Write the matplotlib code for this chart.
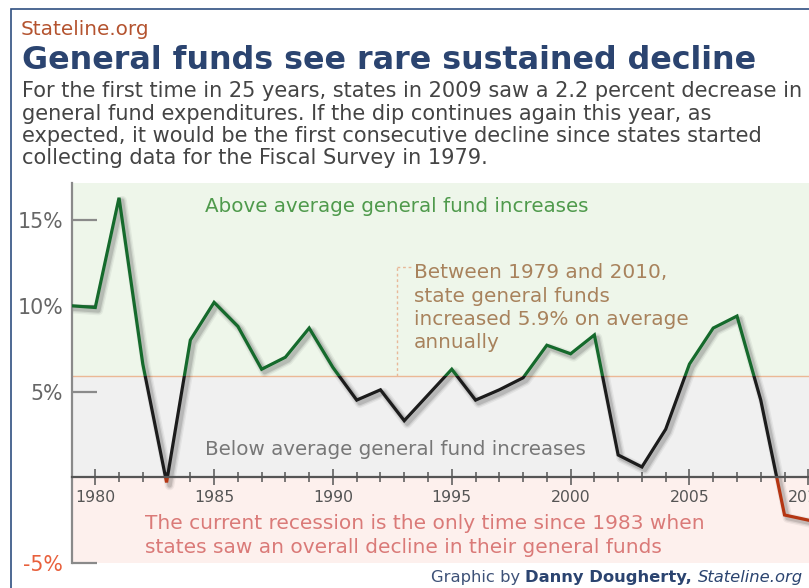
import matplotlib
matplotlib.use("Agg")
import matplotlib.pyplot as plt
from matplotlib import transforms
from matplotlib.patches import Rectangle

plt.rcParams["font.family"] = ["DejaVu Sans"]

# data: annual % change in state general fund spending
years = [1979, 1980, 1981, 1982, 1983, 1984, 1985, 1986, 1987, 1988, 1989,
         1990, 1991, 1992, 1993, 1994, 1995, 1996, 1997, 1998, 1999, 2000,
         2001, 2002, 2003, 2004, 2005, 2006, 2007, 2008, 2009, 2010]
change = [10.0, 9.9, 16.3, 6.6, -0.3, 8.0, 10.2, 8.8, 6.3, 7.0, 8.7,
          6.4, 4.5, 5.1, 3.3, 4.8, 6.3, 4.5, 5.1, 5.8, 7.7, 7.2,
          8.3, 1.3, 0.6, 2.8, 6.6, 8.7, 9.4, 4.5, -2.2, -2.5]
avg = 5.9
ytick_vals = [-5, 5, 10, 15]
ytick_lbls = ["-5%", "5%", "10%", "15%"]
xtick_major = [1980, 1985, 1990, 1995, 2000, 2005, 2010]

intro = ["For the first time in 25 years, states in 2009 saw a 2.2 percent decrease in",
         "general fund expenditures. If the dip continues again this year, as",
         "expected, it would be the first consecutive decline since states started",
         "collecting data for the Fiscal Survey in 1979."]
avg_note = ["Between 1979 and 2010,", "state general funds",
            "increased 5.9% on average", "annually"]
recession_note = ["The current recession is the only time since 1983 when",
                  "states saw an overall decline in their general funds"]

W, H = 809, 588
NAVY = "#2b4470"


def fx(x):
    return x / W


def fy(y):
    return 1 - y / H


fig = plt.figure(figsize=(W / 100, H / 100), dpi=100)
fig.patch.set_facecolor("white")

# outer frame (cut off on right/bottom like the original)
fig.add_artist(Rectangle((fx(11), -0.1), 1.2, fy(9) + 0.1, transform=fig.transFigure,
                         fill=False, ec="#2f4f80", lw=1.2, clip_on=False))

ax = fig.add_axes([fx(71.5), fy(563), 1 - fx(71.5), fy(183) - fy(563)])
ax.set_xlim(1979, 2010.03)
ax.set_ylim(-5, 17.16)

green_bg = ax.axhspan(avg, 17.16, color="#eef6ea", lw=0, zorder=0)
grey_bg = ax.axhspan(0, avg, color="#f0f0f0", lw=0, zorder=0)
pink_bg = ax.axhspan(-5, 0, color="#fdf0ed", lw=0, zorder=0)
ax.axhline(avg, color="#ebb896", lw=1.0, zorder=1)

# drop shadow
for lw, a in [(7.0, 0.05), (5.0, 0.08), (3.2, 0.12)]:
    sh = transforms.offset_copy(ax.transData, fig=fig, x=3, y=-3, units="dots")
    ax.plot(years, change, color="black", lw=lw, alpha=a, transform=sh,
            solid_joinstyle="round", zorder=2)

# line coloured by region
for col, bg in [("#156a2c", green_bg), ("#1c1c1c", grey_bg), ("#b53512", pink_bg)]:
    ln, = ax.plot(years, change, color=col, lw=2.3, solid_joinstyle="miter", zorder=3)
    ln.set_clip_path(bg)

for s in ["top", "right"]:
    ax.spines[s].set_visible(False)
ax.spines["left"].set_color("#8a8a8a")
ax.spines["left"].set_linewidth(1.6)
ax.spines["bottom"].set_position(("data", 0))
ax.spines["bottom"].set_color("#555555")
ax.spines["bottom"].set_linewidth(1.6)
ax.spines["bottom"].set_zorder(4)

ax.set_yticks(ytick_vals)
ax.set_yticklabels(ytick_lbls)
ax.tick_params(axis="y", direction="in", length=18, width=1.6, color="#8a8a8a",
               pad=6, labelsize=14.8, labelcolor="#666666")
for lbl in ax.get_yticklabels():
    if lbl.get_text().startswith("-"):
        lbl.set_color("#e8603c")

ax.set_xticks(xtick_major)
ax.set_xticks(years, minor=True)
ax.tick_params(axis="x", which="major", direction="inout", length=12, width=1.1,
               color="#555555", pad=3, labelsize=11.3, labelcolor="#555555")
ax.tick_params(axis="x", which="minor", direction="inout", length=7, width=1.1,
               color="#555555")

# region labels
fig.text(fx(205), fy(212), "Above average general fund increases", color="#4f9a4c",
         fontsize=14.3, va="baseline")
fig.text(fx(205), fy(455), "Below average general fund increases", color="#777777",
         fontsize=14.3, va="baseline")
for line, yb in zip(recession_note, [529, 553]):
    fig.text(fx(145), fy(yb), line, color="#da7a78", fontsize=14.5, va="baseline")

# average note with dotted leader
for line, yb in zip(avg_note, [278, 302, 325, 348]):
    fig.text(fx(414), fy(yb), line, color="#a8825c", fontsize=14.4, va="baseline")
ax.plot([1992.7, 1992.7], [avg, 12.26], color="#e8b898", lw=1, ls=(0, (2, 2)), zorder=1)
ax.plot([1992.7, 1993.35], [12.26, 12.26], color="#e8b898", lw=1, ls=(0, (2, 2)), zorder=1)

# header
fig.text(fx(21), fy(35), "Stateline.org", color="#b4532f", fontsize=14.4, va="baseline")
fig.text(fx(22), fy(69), "General funds see rare sustained decline", color=NAVY,
         fontsize=22.9, fontweight="bold", va="baseline")
for line, yb in zip(intro, [97, 119.5, 142, 164.5]):
    fig.text(fx(22), fy(yb), line, color="#444444", fontsize=15, va="baseline")

# credit line: pieces laid out right to left
r = fig.canvas.get_renderer()
x_right = 803
t3 = fig.text(fx(x_right), fy(582), "Stateline.org", color=NAVY, fontsize=11.8,
              style="italic", ha="right", va="baseline")
x_right -= t3.get_window_extent(r).width
t2 = fig.text(fx(x_right), fy(582), "Danny Dougherty, ", color=NAVY, fontsize=11.8,
              fontweight="bold", ha="right", va="baseline")
x_right -= t2.get_window_extent(r).width
fig.text(fx(x_right), fy(582), "Graphic by ", color="#3e5278", fontsize=11.8,
         ha="right", va="baseline")

fig.savefig("out.png", dpi=100, facecolor="white")
